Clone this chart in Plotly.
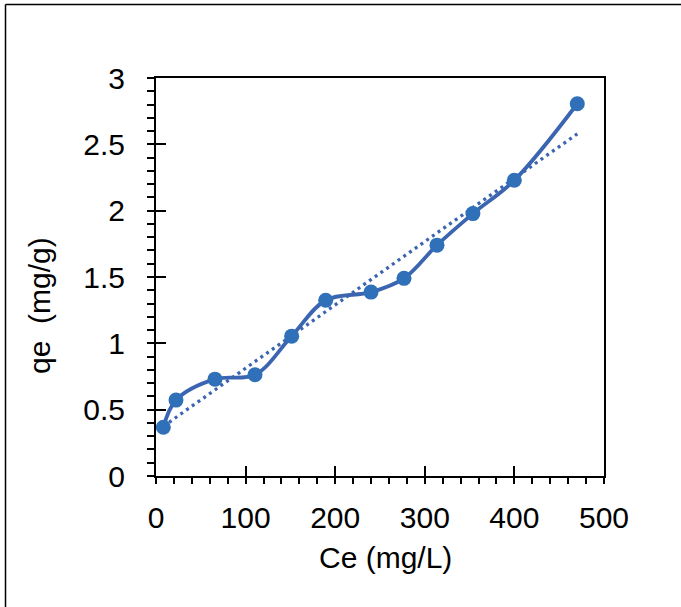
import numpy as np
import plotly.graph_objects as go

# Data
ce = [8.2, 22.3, 65.8, 110.5, 151.4, 189.4, 240.0, 276.8, 313.6, 353.7, 399.9, 470.2]
qe = [0.367, 0.572, 0.730, 0.763, 1.054, 1.325, 1.386, 1.490, 1.740, 1.978, 2.229, 2.806]
x_ticks = [0, 100, 200, 300, 400, 500]
y_ticks = [0, 0.5, 1, 1.5, 2, 2.5, 3]
y_tick_text = ["0", "0.5", "1", "1.5", "2", "2.5", "3"]

# linear trendline (least squares)
slope, intercept = np.polyfit(ce, qe, 1)
tx = [min(ce), max(ce)]
ty = [slope * v + intercept for v in tx]

W, H = 681, 607
L, R, T, B = 156, 77, 78, 131
pw, ph = W - L - R, H - T - B

def px(xpix):
    return (xpix - L) / pw

def py(ypix):
    return (H - B - ypix) / ph

FONT = "Liberation Sans, Arial, sans-serif"
FS = 30
LINE_C = "#3B65B1"
MARK_C = "#2F70B8"

fig = go.Figure()
fig.add_trace(go.Scatter(
    x=tx, y=ty, mode="lines",
    line=dict(color=LINE_C, width=3.3, dash="3px,4px"),
    hoverinfo="skip", showlegend=False))
fig.add_trace(go.Scatter(
    x=ce, y=qe, mode="lines+markers",
    line=dict(color=LINE_C, width=3.8, shape="spline", smoothing=1.0),
    marker=dict(color=MARK_C, size=15, line=dict(width=0)),
    showlegend=False))
# invisible trace to create overlay axes for inner half of major ticks
fig.add_trace(go.Scatter(x=[None], y=[None], xaxis="x2", yaxis="y2",
                         mode="markers", showlegend=False, hoverinfo="skip"))

axis_common = dict(showgrid=False, zeroline=False, color="black",
                   tickfont=dict(family=FONT, size=FS, color="black"))

fig.update_layout(
    width=W, height=H,
    margin=dict(l=L, r=R, t=T, b=B, pad=0),
    paper_bgcolor="white", plot_bgcolor="white",
    font=dict(family=FONT, color="black"),
    xaxis=dict(range=[0, 500], tickvals=x_ticks, ticks="outside", ticklen=6,
               tickwidth=1.5, tickcolor="black",
               showline=True, linewidth=2, linecolor="black", mirror=True,
               minor=dict(dtick=20, ticks="outside", ticklen=6, tickwidth=1.5,
                          tickcolor="black"),
               ticklabelstandoff=8,
               **axis_common),
    yaxis=dict(range=[0, 3], tickvals=y_ticks, ticktext=y_tick_text,
               ticks="outside", ticklen=7, tickwidth=1.5, tickcolor="black",
               showline=True, linewidth=2, linecolor="black", mirror=True,
               minor=dict(dtick=0.1, ticks="outside", ticklen=7, tickwidth=1.5,
                          tickcolor="black"),
               ticklabelstandoff=16,
               **axis_common),
    xaxis2=dict(range=[0, 500], overlaying="x", anchor="y", side="bottom",
                tickvals=x_ticks, ticks="inside", ticklen=10, tickwidth=1.5,
                tickcolor="black", showticklabels=False, showline=False,
                showgrid=False, zeroline=False),
    yaxis2=dict(range=[0, 3], overlaying="y", anchor="x", side="left",
                tickvals=y_ticks, ticks="inside", ticklen=10, tickwidth=1.5,
                tickcolor="black", showticklabels=False, showline=False,
                showgrid=False, zeroline=False),
    annotations=[
        dict(text="Ce (mg/L)", xref="paper", yref="paper",
             x=px(385), y=py(557), xanchor="center", yanchor="middle",
             showarrow=False, font=dict(family=FONT, size=FS, color="black")),
        dict(text="qe  (mg/g)", xref="paper", yref="paper",
             x=px(39), y=py(306), xanchor="center", yanchor="middle",
             textangle=-90, showarrow=False,
             font=dict(family=FONT, size=FS, color="black")),
    ],
    shapes=[
        dict(type="line", xref="paper", yref="paper",
             x0=px(5.5), x1=px(700), y0=py(4.5), y1=py(4.5),
             line=dict(color="black", width=1.5)),
        dict(type="line", xref="paper", yref="paper",
             x0=px(5.5), x1=px(5.5), y0=py(4.5), y1=py(640),
             line=dict(color="black", width=1.5)),
    ],
)

fig.write_html("out.html")
